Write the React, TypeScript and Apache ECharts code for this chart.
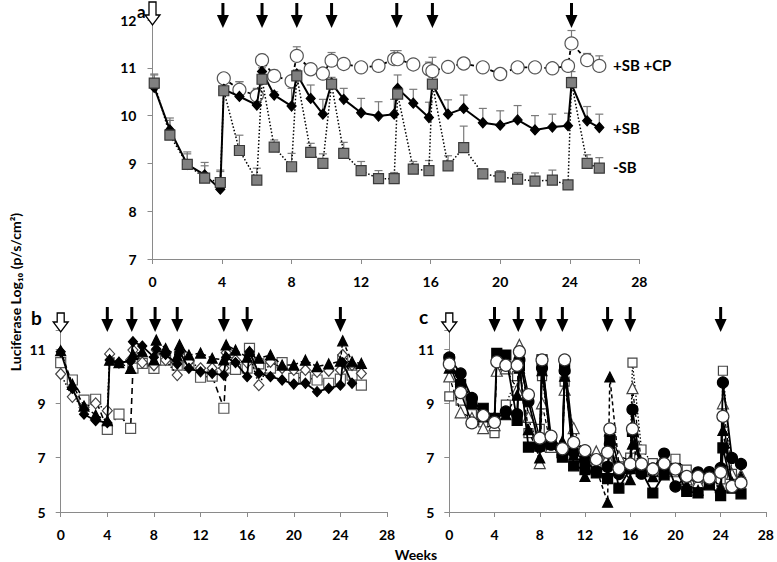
import React, { useEffect, useRef } from "react";
import * as echarts from "echarts";

// ---------- Panel a ----------
const A_WEEKS = [0.1, 1, 2, 3, 3.9, 4.1, 5, 6, 6.3, 7, 8, 8.3, 9.1, 9.8, 10.3, 11, 12, 13, 13.9, 14.1, 15, 15.9, 16.1, 17, 17.9, 19, 20, 21, 22, 23, 23.9, 24.1, 25, 25.7];
const A_MINUS_SB = [10.68, 9.59, 8.98, 8.69, 8.6, 10.52, 9.27, 8.65, 10.76, 9.34, 8.93, 10.83, 9.23, 9.0, 10.66, 9.21, 8.85, 8.68, 8.68, 10.45, 8.88, 8.85, 10.66, 8.95, 9.33, 8.78, 8.72, 8.67, 8.63, 8.65, 8.55, 10.69, 9.0, 8.9];
const A_MINUS_SB_UP = [10.85, 9.95, 9.24, 9.02, 8.86, 10.6, 9.59, 8.9, 10.85, 9.49, 9.21, 10.95, 9.42, 9.2, 10.75, 9.44, 9.04, 8.85, 8.81, 10.55, 9.04, 9.06, 10.75, 9.16, 9.78, 8.88, 8.85, 8.81, 8.8, 8.86, 8.62, 10.92, 9.18, 9.12];
const A_PLUS_SB = [10.59, 9.7, 8.98, 8.76, 8.46, 10.55, 10.4, 10.22, 10.92, 10.43, 10.2, 10.87, 10.36, 10.03, 10.68, 10.34, 10.06, 9.99, 10.03, 10.57, 10.26, 9.96, 10.66, 10.03, 10.15, 9.85, 9.8, 9.91, 9.7, 9.76, 9.79, 10.66, 9.89, 9.75];
const A_PLUS_SB_UP = [10.87, 9.9, 9.2, 8.95, 8.83, 10.7, 10.71, 10.57, 11.0, 10.5, 10.57, 10.95, 10.64, 10.34, 10.8, 10.57, 10.36, 10.29, 10.34, 10.85, 10.55, 10.28, 10.8, 10.33, 10.43, 10.15, 10.1, 10.21, 10.0, 10.03, 10.05, 10.8, 10.19, 10.03];
const A_CP = [null, null, null, null, null, 10.78, 10.54, 10.42, 11.16, 10.83, 10.72, 11.25, 10.97, 10.88, 11.15, 11.08, 11.01, 11.04, 11.18, 11.18, 11.07, 10.97, 10.93, 11.02, 11.09, 11.01, 10.87, 11.01, 11.01, 10.99, 11.04, 11.51, 11.16, 11.04];
const A_CP_UP = [null, null, null, null, null, 10.88, 10.71, 10.55, 11.28, 10.95, 10.8, 11.44, 11.05, 10.95, 11.32, 11.14, 11.07, 11.12, 11.36, 11.36, 11.15, 11.12, 11.22, 11.1, 11.15, 11.08, 10.95, 11.1, 11.1, 11.1, 11.15, 11.78, 11.3, 11.25];
const ARROWS_A = [4.05, 6.3, 8.3, 10.3, 14.05, 16.1, 24.1];

// ---------- Panel b ----------
const BC_WEEKS = [0, 1, 2, 3, 4, 4.2, 5, 6, 6.2, 7, 8, 8.2, 9, 10, 10.2, 11, 12, 13, 14, 14.2, 15, 16, 16.2, 17, 18, 19, 20, 21, 22, 23, 24, 24.2, 25, 25.8];
const B_FILLED_DIAMOND = [10.9, 9.55, 8.6, 8.36, 8.29, 10.6, 10.5, 10.55, 11.27, 11.11, 10.7, 11.0, 10.8, 10.45, 10.9, 10.29, 10.16, 10.1, 10.04, 10.7, 10.5, 9.98, 10.9, 10.1, 9.98, 9.86, 9.71, 9.74, 9.43, 9.55, 9.67, 10.5, 9.74, null];
const B_FILLED_TRIANGLE = [10.94, 9.7, 8.9, 8.57, 8.36, 10.59, 10.5, 10.29, 10.8, 10.9, 10.6, 11.33, 11.02, 10.75, 11.15, 10.78, 10.85, 10.66, 10.6, 11.15, 10.96, 10.7, 10.9, 10.66, 10.78, 10.41, 10.41, 10.59, 10.35, 10.45, 10.55, 11.3, 10.53, 10.47];
const B_OPEN_DIAMOND = [10.08, 9.24, 8.85, 9.0, 8.73, 10.82, 10.5, 10.6, 10.96, 10.5, 10.4, 10.96, 10.6, 10.04, 10.86, 10.55, 10.29, 10.29, 10.3, 10.86, 10.59, 10.5, 10.8, 9.67, 10.53, 10.3, 10.23, 10.23, 10.16, 10.2, 10.23, 10.78, 10.41, 10.1];
const B_OPEN_SQUARE = [10.5, 9.86, 9.12, 9.15, 8.04, null, 8.6, 8.08, 10.3, 10.47, 10.29, 10.6, 10.59, 10.41, 10.7, 10.4, 9.96, 10.0, 8.82, 10.3, 10.25, 10.3, 11.02, 10.45, 10.3, 10.5, 9.92, 9.96, 9.86, 9.74, 9.89, 10.6, 10.04, 9.67];

// ---------- Panel c ----------
const C_FILLED_SQUARE = [10.6, 9.7, 9.0, 8.82, 8.45, 10.84, 10.78, 8.37, 10.4, 7.39, 7.42, 10.6, 7.5, 7.02, 10.29, 6.7, 6.56, 6.44, 6.23, 7.66, 5.88, 6.6, 7.97, 6.5, 5.7, 6.4, 6.6, 5.76, 5.7, 6.0, 5.6, 7.36, 5.88, 5.67];
const C_FILLED_CIRCLE = [10.69, 10.1, 9.2, 8.6, 8.4, null, 8.7, 8.6, 10.6, 9.07, 7.4, 10.3, 7.48, 7.1, 10.2, 7.2, 6.9, 6.5, 6.66, 7.5, 6.4, 6.6, 8.77, 6.41, 6.6, 7.15, 5.94, 6.3, 6.46, 6.47, 6.62, 9.77, 6.99, 6.77];
const C_FILLED_TRIANGLE = [10.3, 9.9, 9.1, 8.5, 8.5, null, 8.58, 9.3, 10.3, 8.03, 6.99, 10.2, 7.6, 7.6, 10.0, 7.1, 6.31, 6.6, 5.36, 9.97, 6.7, 6.19, 7.5, 6.5, 6.3, 6.37, 6.6, 6.0, 5.8, 6.1, 5.9, 8.0, 6.1, 6.3];
const C_OPEN_CIRCLE = [10.45, 9.4, 8.28, 8.55, 8.3, 10.53, 10.4, 10.4, 10.9, 9.32, 7.72, 10.6, 7.79, 7.33, 10.6, 7.56, 7.26, 6.93, 7.2, 8.06, 6.6, 6.77, 8.06, 6.77, 6.58, 6.78, 6.58, 6.31, 6.31, 6.25, 6.46, 8.52, 5.94, 6.07];
const C_OPEN_TRIANGLE = [9.99, 8.67, 8.46, 8.09, 8.2, 10.2, 10.29, 9.5, 11.15, 8.5, 6.8, 9.0, 7.4, 7.2, 9.5, 8.09, 7.0, 7.23, 7.0, 8.0, 7.05, 6.9, 9.56, 6.8, 6.5, 6.6, 6.5, 6.2, 6.1, 6.3, 5.94, 9.0, 6.4, 6.37];
const C_OPEN_SQUARE = [9.26, 9.1, 8.6, 8.3, 7.9, null, 8.95, 10.0, 10.3, 7.9, 8.06, 10.0, 7.5, 7.2, 9.8, 7.3, 7.1, 6.8, 6.9, 7.8, 6.7, 7.0, 10.5, 7.3, 6.8, 6.7, 6.96, 6.56, 6.2, 6.3, 6.2, 10.2, 6.4, 6.1];
const ARROWS_BC = [4, 6.1, 8.1, 10, 14, 16, 24];

const X_TICKS = [0, 4, 8, 12, 16, 20, 24, 28];
const BC_Y_LABELS = [5, 7, 9, 11];

const FONT = "Lato, 'Open Sans', sans-serif";

const pairs = (xs: number[], ys: (number | null)[]) =>
  xs.map((x, i) => [x, ys[i]]).filter((p) => p[1] !== null);

const errPairs = (xs: number[], ys: (number | null)[], up: (number | null)[]) =>
  xs.map((x, i) => [x, ys[i], up[i]]).filter((p) => p[1] !== null && p[2] !== null);

const axisCommon = {
  axisLine: { show: true, lineStyle: { color: "#8a8a8a", width: 1 } },
  axisTick: { show: true, inside: false, length: 5, lineStyle: { color: "#8a8a8a" } },
  splitLine: { show: false },
};

const labelStyle = { color: "#000", fontWeight: "bold" as const, fontSize: 14, fontFamily: FONT };

function xAxis(gridIndex: number) {
  return {
    type: "value",
    gridIndex,
    min: 0,
    max: 28,
    interval: 4,
    ...axisCommon,
    axisLabel: { ...labelStyle, margin: 15, formatter: (v: number) => (X_TICKS.includes(v) ? String(v) : "") },
  };
}

function lineSeries(
  name: string,
  xIndex: number,
  data: any[],
  symbol: string,
  size: number | number[],
  fill: string,
  border: string,
  lineType: any,
  lineWidth: number,
  z: number
) {
  return {
    name,
    type: "line",
    xAxisIndex: xIndex,
    yAxisIndex: xIndex,
    data,
    symbol,
    symbolSize: size,
    showAllSymbol: true,
    connectNulls: true,
    lineStyle: { color: "#000", width: lineWidth, type: lineType },
    itemStyle: { color: fill, borderColor: border, borderWidth: 1.2 },
    z,
  };
}

function errorSeries(data: any[], z: number) {
  return {
    type: "custom",
    xAxisIndex: 0,
    yAxisIndex: 0,
    data,
    z,
    renderItem: (_p: any, api: any) => {
      const x = api.value(0);
      const v = api.value(1);
      const u = api.value(2);
      const p0 = api.coord([x, v]);
      const p1 = api.coord([x, u]);
      const st = { stroke: "#7a7a7a", lineWidth: 1.2 };
      return {
        type: "group",
        children: [
          { type: "line", shape: { x1: p0[0], y1: p0[1], x2: p1[0], y2: p1[1] }, style: st },
          { type: "line", shape: { x1: p1[0] - 4, y1: p1[1], x2: p1[0] + 4, y2: p1[1] }, style: st },
        ],
      };
    },
  };
}

function solidArrow(cx: number, tip: number, len: number) {
  return [
    { type: "line", shape: { x1: cx, y1: tip - len, x2: cx, y2: tip - 11 }, style: { stroke: "#000", lineWidth: 3 } },
    { type: "polygon", shape: { points: [[cx - 6, tip - 13], [cx + 6, tip - 13], [cx, tip]] }, style: { fill: "#000" } },
  ];
}

function openArrow(cx: number, top: number, tip: number) {
  const h = tip - 10;
  return [
    {
      type: "polygon",
      shape: { points: [[cx - 3.5, top], [cx + 3.5, top], [cx + 3.5, h], [cx + 7.5, h], [cx, tip], [cx - 7.5, h], [cx - 3.5, h]] },
      style: { fill: "#fff", stroke: "#000", lineWidth: 1.3 },
      z: 10,
    },
  ];
}

export default function App() {
  const ref = useRef<HTMLDivElement>(null);
  useEffect(() => {
    if (!ref.current) return;
    const chart = echarts.init(ref.current, undefined, { renderer: "svg" });
    const option: any = {
      animation: false,
      backgroundColor: "#fff",
      grid: [
        { left: 152.5, top: 20, width: 486.8, height: 239 },
        { left: 60.7, top: 330, width: 326.3, height: 182 },
        { left: 449.3, top: 330, width: 318.4, height: 182 },
      ],
      xAxis: [xAxis(0), xAxis(1), xAxis(2)],
      yAxis: [
        { type: "value", gridIndex: 0, min: 7, max: 12, interval: 1, ...axisCommon, axisLabel: { ...labelStyle, margin: 16 } },
        {
          type: "value", gridIndex: 1, min: 5, max: 11.7, interval: 2, ...axisCommon,
          axisLabel: { ...labelStyle, margin: 15, formatter: (v: number) => (BC_Y_LABELS.includes(v) ? String(v) : "") },
        },
        {
          type: "value", gridIndex: 2, min: 5, max: 11.7, interval: 2, ...axisCommon,
          axisLabel: { ...labelStyle, margin: 15, formatter: (v: number) => (BC_Y_LABELS.includes(v) ? String(v) : "") },
        },
      ],
      series: [
        errorSeries(errPairs(A_WEEKS, A_PLUS_SB, A_PLUS_SB_UP), 1),
        errorSeries(errPairs(A_WEEKS, A_CP, A_CP_UP), 1),
        errorSeries(errPairs(A_WEEKS, A_MINUS_SB, A_MINUS_SB_UP), 1),
        lineSeries("+SB +CP", 0, pairs(A_WEEKS, A_CP), "circle", 13, "#fff", "#555", [4, 3], 1.8, 2),
        lineSeries("+SB", 0, pairs(A_WEEKS, A_PLUS_SB), "diamond", [9, 10], "#000", "#000", "solid", 2, 3),
        lineSeries("-SB", 0, pairs(A_WEEKS, A_MINUS_SB), "rect", 10, "#808080", "#3a3a3a", [1.5, 2], 1.5, 4),

        lineSeries("b1", 1, pairs(BC_WEEKS, B_OPEN_SQUARE), "rect", 10, "#fff", "#555", [6, 4], 1.6, 2),
        lineSeries("b2", 1, pairs(BC_WEEKS, B_OPEN_DIAMOND), "diamond", [10, 11], "#fff", "#444", [1.5, 2], 1.5, 3),
        lineSeries("b3", 1, pairs(BC_WEEKS, B_FILLED_DIAMOND), "diamond", [9, 10], "#000", "#000", "solid", 1.8, 4),
        lineSeries("b4", 1, pairs(BC_WEEKS, B_FILLED_TRIANGLE), "triangle", 10, "#000", "#000", [4, 3], 1.5, 5),

        lineSeries("c1", 2, pairs(BC_WEEKS, C_OPEN_SQUARE), "rect", 9, "#fff", "#444", [1.5, 2], 1.3, 2),
        lineSeries("c2", 2, pairs(BC_WEEKS, C_OPEN_TRIANGLE), "triangle", 11, "#fff", "#444", [4, 3], 1.3, 3),
        lineSeries("c3", 2, pairs(BC_WEEKS, C_FILLED_TRIANGLE), "triangle", 10, "#000", "#000", [4, 3], 1.5, 4),
        lineSeries("c4", 2, pairs(BC_WEEKS, C_FILLED_SQUARE), "rect", 10, "#000", "#000", "solid", 1.8, 5),
        lineSeries("c5", 2, pairs(BC_WEEKS, C_FILLED_CIRCLE), "circle", 11, "#000", "#000", "solid", 1.8, 6),
        lineSeries("c6", 2, pairs(BC_WEEKS, C_OPEN_CIRCLE), "circle", 12, "#fff", "#333", "solid", 1.5, 7),
      ],
    };
    chart.setOption(option);

    const graphics: any[] = [];
    const aTop = chart.convertToPixel({ gridIndex: 0 }, [0, 12]) as number[];
    graphics.push(...openArrow(aTop[0], aTop[1] - 18, aTop[1] + 5));
    ARROWS_A.forEach((w) => {
      const p = chart.convertToPixel({ gridIndex: 0 }, [w, 12]) as number[];
      graphics.push(...solidArrow(p[0], p[1] + 8, 25));
    });
    [1, 2].forEach((g) => {
      const t = chart.convertToPixel({ gridIndex: g }, [0, 11.7]) as number[];
      graphics.push(...openArrow(t[0], t[1] - 17, t[1] + 2));
      ARROWS_BC.forEach((w) => {
        const p = chart.convertToPixel({ gridIndex: g }, [w, 11.7]) as number[];
        graphics.push(...solidArrow(p[0], p[1] + 2, 25));
      });
    });
    const txt = (text: string, x: number, y: number, size: number, align = "left", extra: any = {}) => ({
      type: "text",
      x,
      y,
      ...extra,
      style: { text, fill: "#000", fontSize: size, fontWeight: "bold", fontFamily: FONT, textAlign: align, textVerticalAlign: "middle" },
      z: 20,
    });
    graphics.push(txt("a", 137, 11, 17));
    graphics.push(txt("b", 31, 317, 19));
    graphics.push(txt("c", 419, 316, 19));
    graphics.push(txt("+SB +CP", 613, 65, 15));
    graphics.push(txt("+SB", 613, 128, 15));
    graphics.push(txt("-SB", 613, 167, 15));
    graphics.push(txt("Weeks", 416, 554, 14, "center"));
    graphics.push(txt("Luciferase Log₁₀ (p/s/cm²)", 15, 292, 14, "center", { rotation: Math.PI / 2 }));
    chart.setOption({ graphic: graphics });

    return () => chart.dispose();
  }, []);
  return <div ref={ref} style={{ position: "fixed", left: 0, top: 0, width: 777, height: 562 }} />;
}
